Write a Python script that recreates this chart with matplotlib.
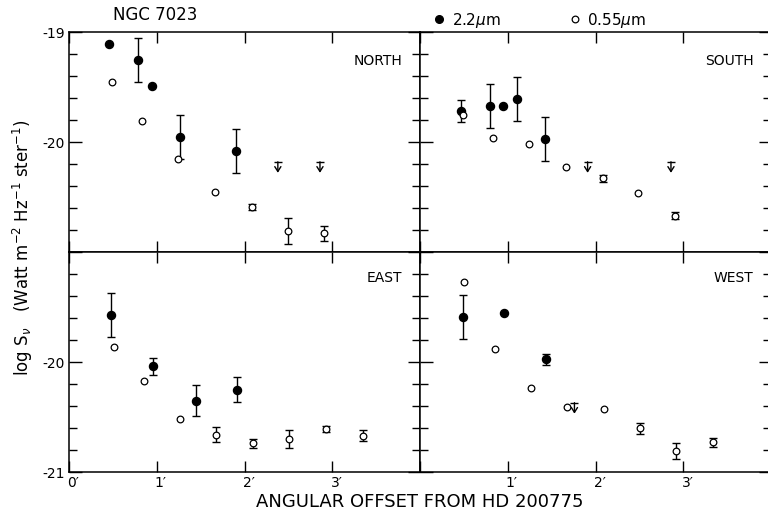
import matplotlib
matplotlib.use("Agg")
import matplotlib.pyplot as plt
import matplotlib.transforms as mtransforms
from matplotlib.lines import Line2D
from matplotlib.ticker import FixedLocator, FixedFormatter, MultipleLocator

# log S_nu profiles around HD 200775, filled = 2.2 um, open = 0.55 um
north_k_x = [0.46, 0.79, 0.95, 1.27, 1.90]
north_k_y = [-19.11, -19.25, -19.49, -19.95, -20.08]
north_k_err = [0, 0.20, 0, 0.20, 0.20]
north_v_x = [0.49, 0.83, 1.24, 1.66, 2.09, 2.50, 2.91]
north_v_y = [-19.45, -19.81, -20.15, -20.45, -20.59, -20.81, -20.83]
north_v_err = [0, 0, 0, 0, 0.025, 0.12, 0.07]
north_lim_x = [2.38, 2.86]
north_lim_y = [-20.18, -20.18]

south_k_x = [0.47, 0.80, 0.95, 1.10, 1.43]
south_k_y = [-19.72, -19.67, -19.67, -19.61, -19.97]
south_k_err = [0.10, 0.20, 0, 0.20, 0.20]
south_v_x = [0.49, 0.83, 1.24, 1.66, 2.08, 2.49, 2.91]
south_v_y = [-19.75, -19.96, -20.02, -20.23, -20.33, -20.46, -20.67]
south_v_err = [0, 0, 0, 0, 0.03, 0, 0.03]
south_lim_x = [1.91, 2.86]
south_lim_y = [-20.18, -20.18]

east_k_x = [0.48, 0.96, 1.45, 1.92]
east_k_y = [-19.57, -20.04, -20.35, -20.25]
east_k_err = [0.20, 0.075, 0.14, 0.11]
east_v_x = [0.51, 0.85, 1.26, 1.67, 2.10, 2.51, 2.93, 3.35]
east_v_y = [-19.86, -20.17, -20.52, -20.66, -20.74, -20.70, -20.61, -20.67]
east_v_err = [0, 0, 0, 0.065, 0.04, 0.08, 0.03, 0.05]
east_lim_x = []
east_lim_y = []

west_k_x = [0.49, 0.955, 1.44]
west_k_y = [-19.59, -19.555, -19.975]
west_k_err = [0.20, 0, 0.05]
west_v_x = [0.50, 0.85, 1.26, 1.67, 2.10, 2.51, 2.92, 3.34]
west_v_y = [-19.27, -19.88, -20.24, -20.41, -20.43, -20.60, -20.81, -20.73]
west_v_err = [0, 0, 0, 0, 0, 0.05, 0.07, 0.04]
west_lim_x = [1.76]
west_lim_y = [-20.37]

panels = [
    ("NORTH", north_k_x, north_k_y, north_k_err, north_v_x, north_v_y, north_v_err, north_lim_x, north_lim_y),
    ("SOUTH", south_k_x, south_k_y, south_k_err, south_v_x, south_v_y, south_v_err, south_lim_x, south_lim_y),
    ("EAST", east_k_x, east_k_y, east_k_err, east_v_x, east_v_y, east_v_err, east_lim_x, east_lim_y),
    ("WEST", west_k_x, west_k_y, west_k_err, west_v_x, west_v_y, west_v_err, west_lim_x, west_lim_y),
]

x_ticks = [0, 1, 2, 3, 4]
y_ticks = [-21, -20, -19]

fig = plt.figure(figsize=(7.68, 5.12), dpi=100)

# 2x2 grid of panels sharing edges
w = 351 / 768
h = 220 / 512
boxes = [
    (69 / 768, 1 - 252 / 512),
    (420 / 768, 1 - 252 / 512),
    (69 / 768, 1 - 472 / 512),
    (420 / 768, 1 - 472 / 512),
]

def errs(xs, ys, es):
    sel = [(a, b, c) for a, b, c in zip(xs, ys, es) if c > 0]
    return [s[0] for s in sel], [s[1] for s in sel], [s[2] for s in sel]

for i, (name, kx, ky, ke, vx, vy, ve, lx, ly) in enumerate(panels):
    ax = fig.add_axes([boxes[i][0], boxes[i][1], w, h])
    ax.set_xlim(0, 4)
    ax.set_ylim(-21, -19)
    for sp in ax.spines.values():
        sp.set_linewidth(1.1)

    ex, ey, ee = errs(kx, ky, ke)
    ax.errorbar(ex, ey, yerr=ee, fmt="none", ecolor="black", elinewidth=1,
                capsize=3, capthick=1, zorder=2)
    ex, ey, ee = errs(vx, vy, ve)
    ax.errorbar(ex, ey, yerr=ee, fmt="none", ecolor="black", elinewidth=1,
                capsize=3, capthick=1, zorder=2)
    ax.plot(kx, ky, "o", color="black", ms=5.8, zorder=3)
    ax.plot(vx, vy, "o", mfc="white", mec="black", mew=0.9, ms=4.8, zorder=4)

    # upper limits: bar with an open arrow pointing down
    for x, y in zip(lx, ly):
        ax.plot([x], [y], marker="_", color="black", ms=6, mew=1)
        ax.annotate("", xy=(x, y - 0.1), xytext=(x, y),
                    arrowprops=dict(arrowstyle="->,head_length=0.35,head_width=0.22",
                                    lw=1, color="black", shrinkA=0, shrinkB=0))

    ax.text(0.95, 0.87 if i < 2 else 0.88, name, transform=ax.transAxes,
            ha="right", va="center", fontsize=10)

    ax.xaxis.set_major_locator(FixedLocator(x_ticks))
    ax.yaxis.set_major_locator(FixedLocator(y_ticks))
    ax.yaxis.set_minor_locator(MultipleLocator(0.2))
    ax.tick_params(axis="x", which="major", direction="in", top=True, bottom=True,
                   length=8, width=1, labelsize=10, pad=3)
    ax.tick_params(axis="y", which="major", direction="in", left=True, right=True,
                   length=9, width=1, labelsize=10, pad=3)
    ax.tick_params(axis="y", which="minor", direction="in", left=True, right=True,
                   length=6, width=1)

    if i == 2:
        xl = ["0′", "1′", "2′", "3′", ""]
    elif i == 3:
        xl = ["", "1′", "2′", "3′", "4′"]
    else:
        xl = [""] * 5
    ax.xaxis.set_major_formatter(FixedFormatter(xl))
    if i == 0:
        yl = ["", "-20", "-19"]
    elif i == 2:
        yl = ["-21", "-20", ""]
    else:
        yl = [""] * 3
    ax.yaxis.set_major_formatter(FixedFormatter(yl))

    # shift the primed labels so the digit sits under the tick
    off = mtransforms.ScaledTranslation(3 / 72, 0, fig.dpi_scale_trans)
    for lab in ax.get_xticklabels():
        lab.set_transform(lab.get_transform() + off)

fig.text(155 / 768, 1 - 15 / 512, "NGC 7023", ha="center", va="center", fontsize=12)
fig.text(0.547, 1 - 502 / 512, "ANGULAR OFFSET FROM HD 200775",
         ha="center", va="center", fontsize=13)
fig.text(23 / 768, 1 - 248 / 512,
         r"log S$_\nu$   (Watt m$^{-2}$ Hz$^{-1}$ ster$^{-1}$)",
         rotation=90, ha="center", va="center", fontsize=12)

handles = [
    Line2D([], [], ls="none", marker="o", color="black", ms=5.5),
    Line2D([], [], ls="none", marker="o", mfc="white", mec="black", mew=0.9, ms=4.8),
]
fig.legend(handles, [r"2.2$\mu$m", r"0.55$\mu$m"], loc="center",
           bbox_to_anchor=(0.703, 1 - 20 / 512), ncol=2, frameon=False,
           handlelength=0.8, handletextpad=0.4, columnspacing=4.5, fontsize=11)

fig.savefig("out.png", dpi=100)
